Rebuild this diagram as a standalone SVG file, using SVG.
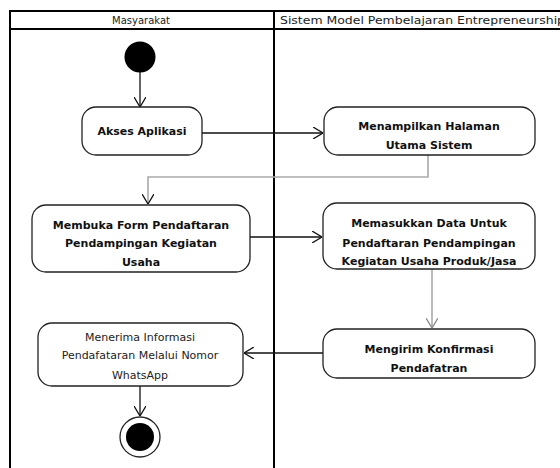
<svg xmlns="http://www.w3.org/2000/svg" width="560" height="468" viewBox="0 0 560 468">
  <style>
    .lane { fill: none; stroke: #000; stroke-width: 2; }
    .hdr { font-family: "DejaVu Sans", "Liberation Sans", sans-serif; font-size: 10px; fill: #222; }
    .act { fill: #fff; stroke: #222; stroke-width: 1.3; }
    .lbl { font-family: "DejaVu Sans", "Liberation Sans", sans-serif; font-size: 11px; font-weight: bold; fill: #111; text-anchor: middle; }
    .lbn { font-family: "DejaVu Sans", "Liberation Sans", sans-serif; font-size: 11px; fill: #222; text-anchor: middle; }
    .flow { fill: none; stroke: #111; stroke-width: 1.3; }
    .flowg { fill: none; stroke: #aaa; stroke-width: 1.6; }
  </style>
  <defs>
    <marker id="open" viewBox="0 0 10 12" refX="10" refY="6" markerWidth="10" markerHeight="12" markerUnits="userSpaceOnUse" orient="auto">
      <path d="M0,0 L10,6 L0,12" fill="none" stroke="#111" stroke-width="1.3"/>
    </marker>
    <marker id="openg" viewBox="0 0 10 12" refX="10" refY="6" markerWidth="10" markerHeight="12" markerUnits="userSpaceOnUse" orient="auto">
      <path d="M0,0 L10,6 L0,12" fill="none" stroke="#888" stroke-width="1.3"/>
    </marker>
  </defs>

  <rect width="560" height="468" fill="#fff"/>

  <!-- swimlanes -->
  <g id="lanes">
    <rect class="lane" x="10" y="11" width="552" height="470"/>
    <line class="lane" x1="10" y1="29" x2="562" y2="29"/>
    <line class="lane" x1="274" y1="11" x2="274" y2="470"/>
    <text class="hdr" x="141" y="24" text-anchor="middle">Masyarakat</text>
    <text class="hdr" x="280" y="24" textLength="285" lengthAdjust="spacingAndGlyphs">Sistem Model Pembelajaran Entrepreneurship</text>
  </g>

  <!-- connectors -->
  <g id="connectors">
    <line class="flow" x1="140" y1="72" x2="140" y2="107" marker-end="url(#open)"/>
    <line class="flow" x1="202" y1="133" x2="323" y2="133" marker-end="url(#open)"/>
    <polyline class="flowg" points="428,155 428,177 148,177 148,204" marker-end="url(#open)"/>
    <line class="flow" x1="250" y1="237" x2="322" y2="237" marker-end="url(#open)"/>
    <line class="flowg" x1="432" y1="269" x2="432" y2="328" marker-end="url(#openg)"/>
    <line class="flow" x1="323" y1="353" x2="244" y2="353" marker-end="url(#open)"/>
    <line class="flow" x1="140" y1="386" x2="140" y2="416" marker-end="url(#open)"/>
  </g>

  <g id="start">
    <circle cx="140" cy="57" r="15.5" fill="#000"/>
  </g>

  <g id="akses-aplikasi">
    <rect class="act" x="82" y="107" width="120" height="48" rx="14"/>
    <text class="lbl" x="142" y="135">Akses Aplikasi</text>
  </g>

  <g id="menampilkan-halaman">
    <rect class="act" x="324" y="107" width="211" height="48" rx="14"/>
    <text class="lbl" x="429" y="130">Menampilkan Halaman</text>
    <text class="lbl" x="429" y="149">Utama Sistem</text>
  </g>

  <g id="membuka-form">
    <rect class="act" x="32" y="205" width="218" height="67" rx="14"/>
    <text class="lbl" x="141" y="229">Membuka Form Pendaftaran</text>
    <text class="lbl" x="141" y="247">Pendampingan Kegiatan</text>
    <text class="lbl" x="141" y="266">Usaha</text>
  </g>

  <g id="memasukkan-data">
    <rect class="act" x="323" y="203" width="212" height="66" rx="14"/>
    <text class="lbl" x="429" y="227">Memasukkan Data Untuk</text>
    <text class="lbl" x="429" y="247">Pendaftaran Pendampingan</text>
    <text class="lbl" x="429" y="265">Kegiatan Usaha Produk/Jasa</text>
  </g>

  <g id="mengirim-konfirmasi">
    <rect class="act" x="323" y="329" width="212" height="49" rx="14"/>
    <text class="lbl" x="429" y="353">Mengirim Konfirmasi</text>
    <text class="lbl" x="429" y="372">Pendafatran</text>
  </g>

  <g id="menerima-informasi">
    <rect class="act" x="38" y="323" width="205" height="63" rx="14"/>
    <text class="lbn" x="140" y="341">Menerima Informasi</text>
    <text class="lbn" x="140" y="359">Pendafataran Melalui Nomor</text>
    <text class="lbn" x="140" y="379">WhatsApp</text>
  </g>

  <g id="end">
    <circle cx="140" cy="437" r="20" fill="#fff" stroke="#222" stroke-width="1.3"/>
    <circle cx="140" cy="437" r="14" fill="#000"/>
  </g>
</svg>
